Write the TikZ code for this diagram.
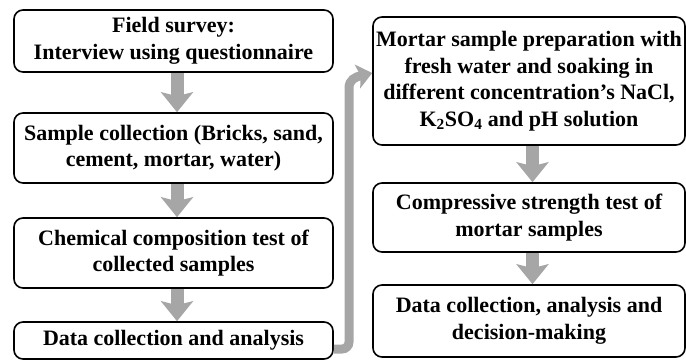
\documentclass[tikz,border=0pt]{standalone}
\usepackage{fontspec}
\setmainfont{Liberation Serif}
\usetikzlibrary{arrows.meta}
\definecolor{arrgray}{HTML}{A6A6A6}
\begin{document}
\begin{tikzpicture}[x=1pt,y=-1pt,
  box/.style={draw, line width=1.6pt, rounded corners=9pt, align=center, inner sep=0pt,
    font=\bfseries\fontsize{22}{26.5}\selectfont},
  lbox/.style={box, minimum width=319pt},
  rbox/.style={box, minimum width=312pt},
  flow/.style={draw=arrgray, line width=13pt, -{Stealth[width=32pt,length=20pt,inset=4pt]}},
  longflow/.style={draw=arrgray, line width=9pt, rounded corners=7pt, -{Stealth[width=24pt,length=15pt,inset=3pt]}}]
\useasboundingbox (0,0) rectangle (686,361);
\node[lbox, minimum height=62pt] (L1) at (173.5,41) {Field survey:\\Interview using questionnaire};
\node[lbox, minimum height=70pt] (L2) at (173.5,148) {Sample collection (Bricks, sand,\\cement, mortar, water)};
\node[lbox, minimum height=70pt] (L3) at (173.5,253) {Chemical composition test of\\collected samples};
\node[lbox, minimum height=37pt] (L4) at (173.5,340.5) {Data collection and analysis};
\node[rbox, minimum height=128pt] (R1) at (529,81) {Mortar sample preparation with\\fresh water and soaking in\\different concentration’s NaCl,\\K\textsubscript{2}SO\textsubscript{4} and pH solution};
\node[rbox, minimum height=69pt] (R2) at (529,217.5) {Compressive strength test of\\mortar samples};
\node[rbox, minimum height=72pt] (R3) at (529,321) {Data collection, analysis and\\decision-making};
\draw[flow] ([xshift=3.5pt]L1.south) -- ([xshift=3.5pt]L2.north);
\draw[flow] ([xshift=3.5pt]L2.south) -- ([xshift=3.5pt]L3.north);
\draw[flow] ([xshift=3.5pt]L3.south) -- ([xshift=3.5pt]L4.north);
\draw[flow] ([xshift=3.5pt]R1.south) -- ([xshift=3.5pt]R2.north);
\draw[flow] ([xshift=3.5pt]R2.south) -- ([xshift=3.5pt]R3.north);
\coordinate (c1) at (349,349);
\coordinate (c2) at (349,95);
\draw[longflow] (L4.east |- c1) -- (c1) -- (c2) .. controls (349,80) and (355,77) .. ([yshift=8pt]R1.west);
\end{tikzpicture}
\end{document}
